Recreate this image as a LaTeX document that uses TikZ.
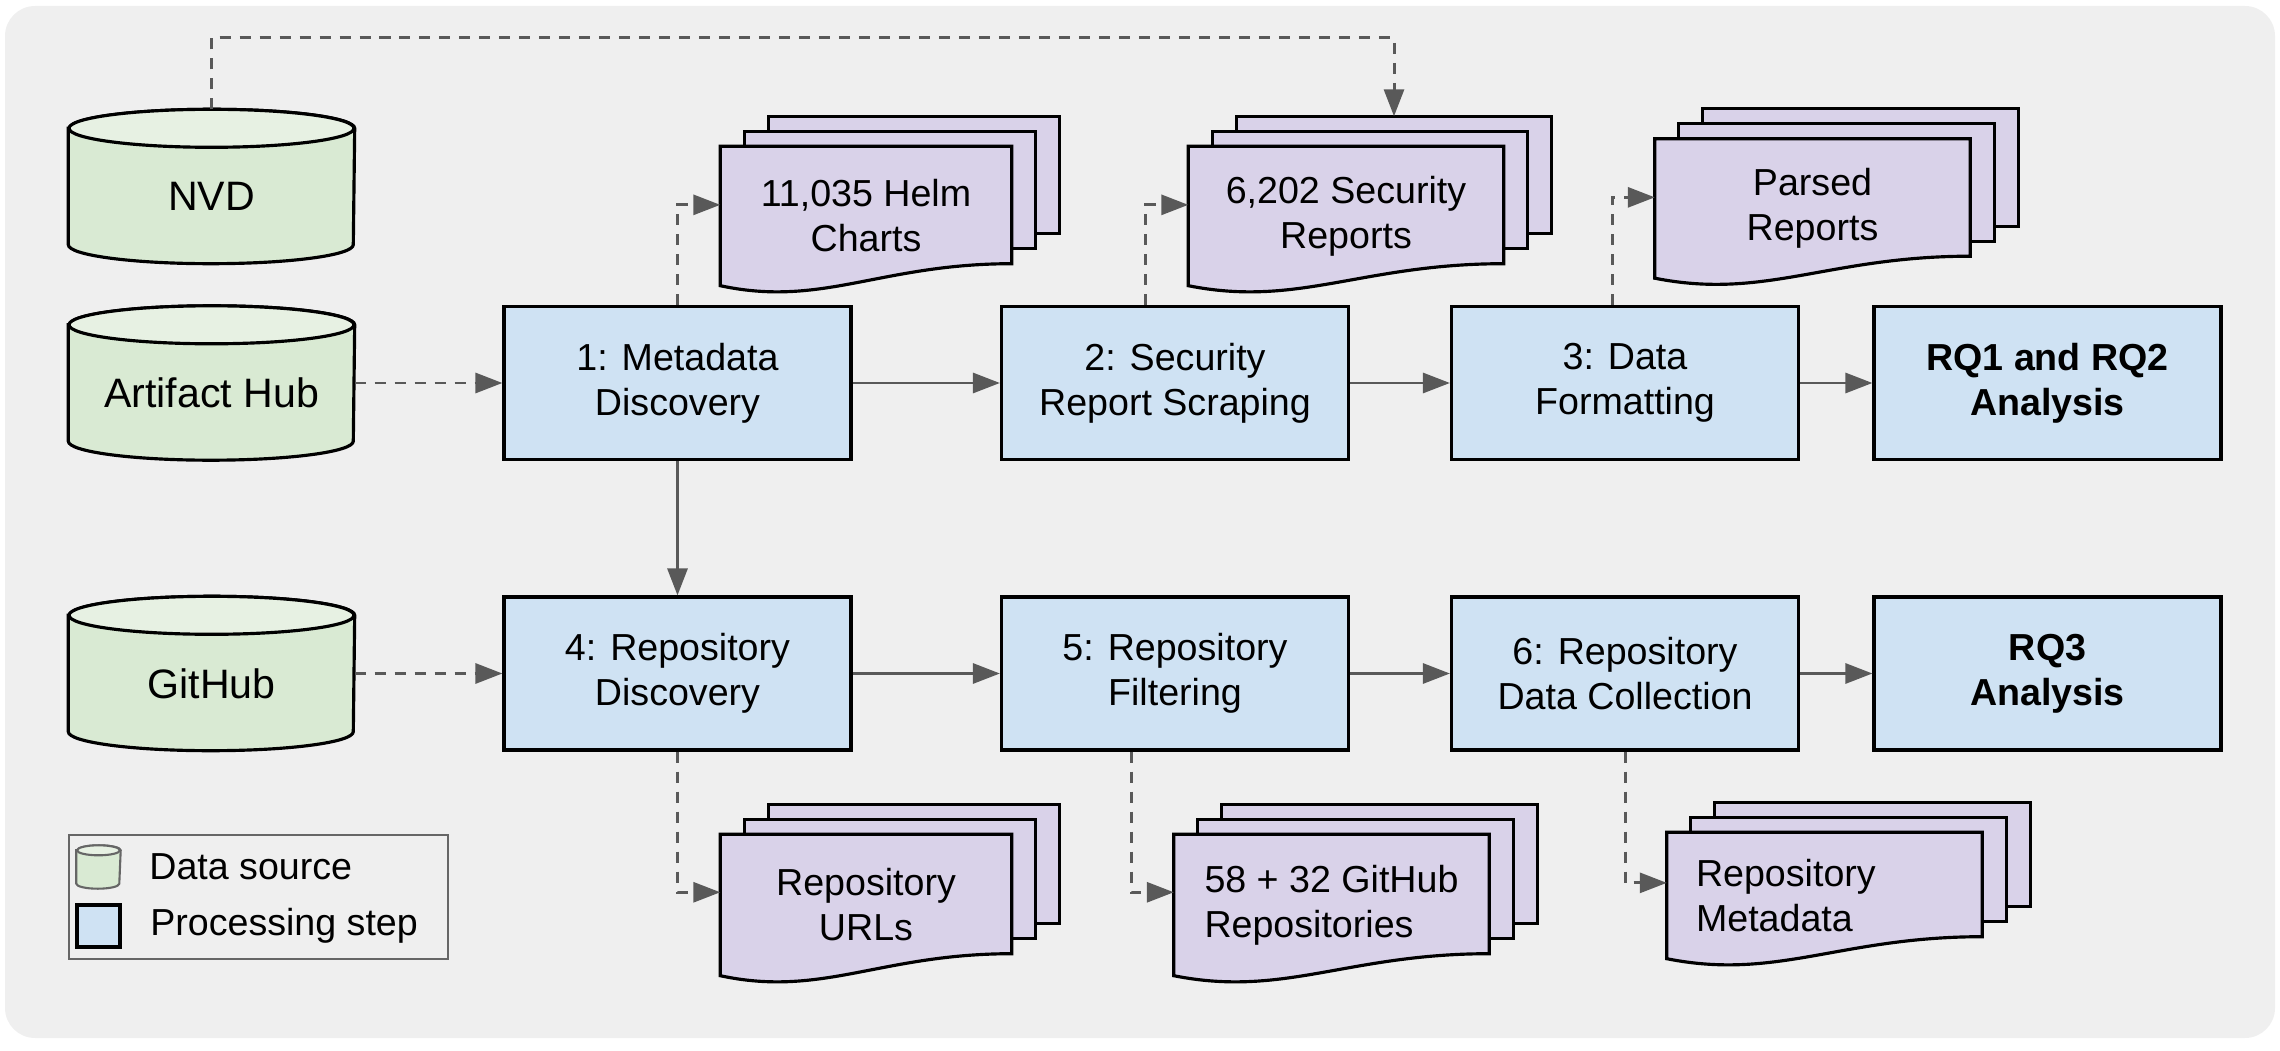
\documentclass[tikz,border=0pt]{standalone}
\usepackage{fontspec}
\setmainfont{Liberation Sans}
\usetikzlibrary{arrows.meta, positioning, calc}

\definecolor{bgcol}{HTML}{EFEFEF}
\definecolor{stepblue}{HTML}{CFE2F3}
\definecolor{srcgreen}{HTML}{D9EAD3}
\definecolor{srctop}{HTML}{E7F1E3}
\definecolor{docpurple}{HTML}{D9D2E9}
\definecolor{linkgray}{HTML}{595959}
\definecolor{legendgray}{HTML}{666666}

\pgfdeclarelayer{back}
\pgfdeclarelayer{shapes}
\pgfsetlayers{back,shapes,main}

\newcommand{\boxfont}{\fontsize{10.7}{12.8}\selectfont}
\newcommand{\dbfont}{\fontsize{11.7}{14}\selectfont}

% cylinder behind a node: name, x radius, y radius, extra style
\newcommand{\dbshape}[4]{%
	\begin{pgfonlayer}{shapes}
		\filldraw[dbline, #4] ($(#1.north west)+(0,-#3)$) -- ($(#1.south west)+(0,#3)$) arc[start angle=180, end angle=360, x radius=#2, y radius=#3] -- ($(#1.north east)+(0,-#3)$) arc[start angle=0, end angle=180, x radius=#2, y radius=#3] -- cycle;
		\filldraw[dbline, #4, fill=srctop] ($(#1.north)+(0,-#3)$) ellipse[x radius=#2, y radius=#3];
	\end{pgfonlayer}%
}

% stack of pages behind a node
\newcommand{\docstack}[1]{%
	\begin{pgfonlayer}{shapes}
		\foreach \d in {2,1} {
			\filldraw[docline] ($(#1.north west)+(0.24*\d,0.15*\d)$) rectangle ($(#1.south east)+(0.24*\d,0.15*\d+0.22)$);
		}
		\filldraw[docline] (#1.north west) -- (#1.north east) -- ($(#1.south east)+(0,0.22)$)
			.. controls ($(#1.south west)!0.55!(#1.south east)+(0,0.22)$) and ($(#1.south west)!0.35!(#1.south east)+(0,-0.22)$) .. (#1.south west) -- cycle;
	\end{pgfonlayer}%
}

\tikzset{
	stepbox/.style={draw=black, line width=0.9pt, fill=stepblue, minimum width=3.47cm, minimum height=1.53cm, inner sep=0pt, align=center, font=\boxfont},
	rqbox/.style={stepbox, font=\boxfont\bfseries},
	datasrc/.style={minimum width=2.85cm, minimum height=1.53cm, inner sep=0pt, text height=0.49cm, text depth=0pt, font=\dbfont},
	docnode/.style={minimum width=3.14cm, minimum height=1.38cm, inner sep=0pt, align=center, font=\boxfont},
	dbline/.style={draw=black, line width=0.9pt, fill=srcgreen},
	docline/.style={draw=black, line width=0.9pt, fill=docpurple},
	flow/.style={draw=linkgray, line width=0.85pt, -{Triangle[length=0.27cm, width=0.2cm]}},
	dashlink/.style={flow, dash pattern=on 0.11cm off 0.09cm},
	legtext/.style={inner sep=0pt, font=\boxfont}
}

\begin{document}
\begin{tikzpicture}
	\useasboundingbox (0,0) rectangle (22.8,10.5);
	\begin{pgfonlayer}{back}
		\fill[bgcol, rounded corners=0.3cm] (0.05,0.12) rectangle (22.75,10.44);
	\end{pgfonlayer}

	% data sources
	\node[datasrc] (nvd) at (2.115,8.635) {NVD};
	\node[datasrc] (hub) at (2.115,6.67) {Artifact Hub};
	\node[datasrc] (gh) at (2.115,3.765) {GitHub};
	\foreach \n in {nvd,hub,gh} {\dbshape{\n}{1.425}{0.19}{}}

	% processing steps
	\node[stepbox] (disc) at (6.775,6.67) {1: Metadata\\Discovery};
	\node[stepbox] (scrape) at (11.75,6.67) {2: Security\\Report Scraping};
	\node[stepbox] (fmt) at (16.25,6.67) {3: Data\\Formatting};
	\node[rqbox] (rqa) at (20.475,6.67) {RQ1 and RQ2\\Analysis};
	\node[stepbox] (repodisc) at (6.775,3.765) {4: Repository\\Discovery};
	\node[stepbox] (filt) at (11.75,3.765) {5: Repository\\Filtering};
	\node[stepbox] (collect) at (16.25,3.765) {6: Repository\\Data Collection};
	\node[rqbox] (rqb) at (20.475,3.765) {RQ3\\Analysis};

	% outputs
	\node[docnode, minimum width=2.9cm] (charts) at (8.66,8.34) {11,035 Helm\\Charts};
	\node[docnode] (reports) at (13.46,8.34) {6,202 Security\\Reports};
	\node[docnode] (parsed) at (18.125,8.415) {Parsed\\Reports};
	\node[docnode, minimum width=2.9cm, minimum height=1.4cm] (urls) at (8.66,1.45) {Repository\\URLs};
	\node[docnode, minimum height=1.4cm, align=left] (repos) at (13.315,1.45) {58 + 32 GitHub\\Repositories};
	\node[docnode, minimum height=1.25cm, text width=2.57cm, align=left] (repometa) at (18.245,1.545) {Repository\\Metadata};
	\foreach \n in {charts,reports,parsed,urls,repos,repometa} {\docstack{\n}}

	% main flow
	\draw[flow] (disc) -- (scrape);
	\draw[flow] (scrape) -- (fmt);
	\draw[flow] (fmt) -- (rqa);
	\draw[flow] (disc) -- (repodisc);
	\draw[flow] (repodisc) -- (filt);
	\draw[flow] (filt) -- (collect);
	\draw[flow] (collect) -- (rqb);

	% inputs and outputs
	\draw[dashlink] (hub) -- (disc);
	\draw[dashlink] (gh) -- (repodisc);
	\draw[dashlink] (nvd.north) -- ++(0,0.72) -| ($(reports.north)+(0.48,0.3)$);
	\draw[dashlink] (disc.north) |- ($(charts.north west)!0.42!(charts.south west)$);
	\draw[dashlink] ($(scrape.north)+(-0.3,0)$) |- ($(reports.north west)!0.42!(reports.south west)$);
	\draw[dashlink] ($(fmt.north)+(-0.13,0)$) |- ($(parsed.north west)!0.42!(parsed.south west)$);
	\draw[dashlink] (repodisc.south) |- ($(urls.north west)!0.41!(urls.south west)$);
	\draw[dashlink] ($(filt.south)+(-0.44,0)$) |- ($(repos.north west)!0.41!(repos.south west)$);
	\draw[dashlink] (collect.south) |- ($(repometa.north west)!0.4!(repometa.south west)$);

	% legend
	\node[draw=legendgray, line width=0.7pt, minimum width=3.79cm, minimum height=1.24cm, inner sep=0pt] (legend) at (2.585,1.53) {};
	\node[minimum width=0.43cm, minimum height=0.42cm, inner sep=0pt] (legsrc) at (0.985,1.83) {};
	\dbshape{legsrc}{0.215}{0.05}{draw=legendgray, line width=0.6pt}
	\node[stepbox, minimum width=0.43cm, minimum height=0.42cm] (legstep) at (0.985,1.24) {};
	\node[legtext, right=0.28cm of legsrc] (legsrctxt) {Data source};
	\node[legtext, right=0.28cm of legstep] (legsteptxt) {Processing step};
\end{tikzpicture}
\end{document}
